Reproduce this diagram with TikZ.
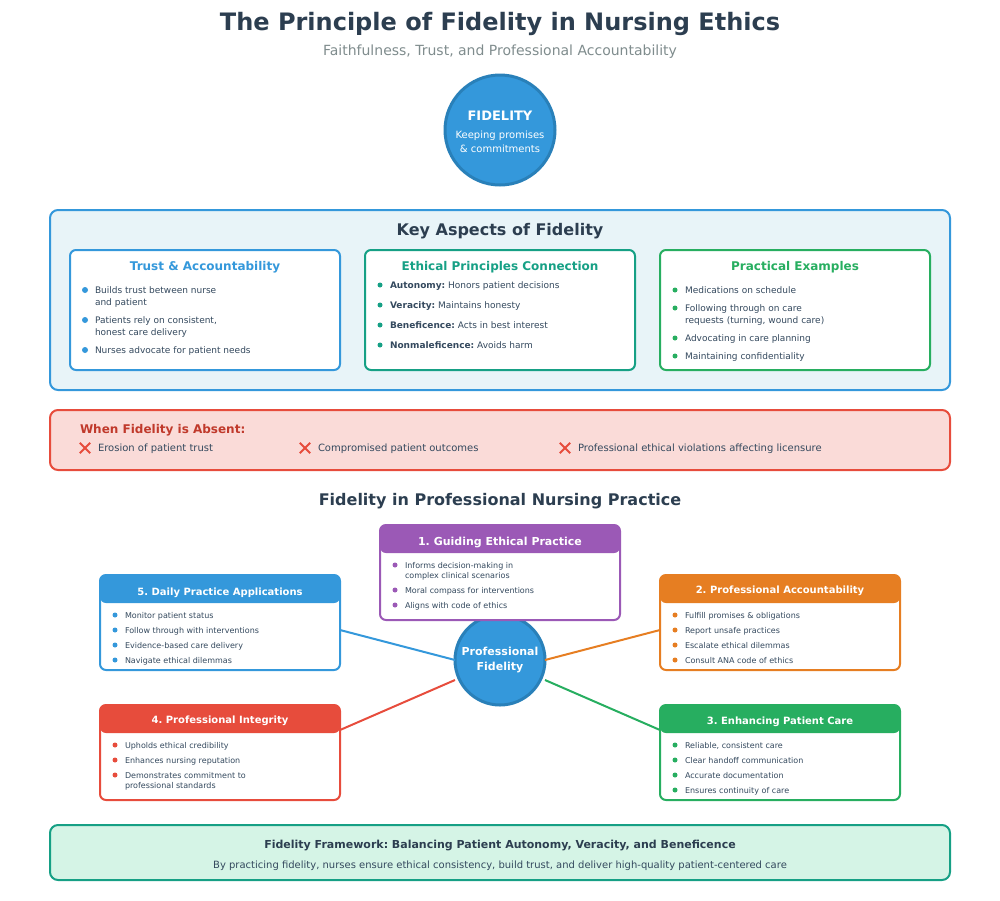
\documentclass[tikz,border=0pt]{standalone}
\usepackage{fontspec}
\setmainfont{DejaVu Sans}
\frenchspacing
\usetikzlibrary{shapes,arrows}
\definecolor{cblue}{HTML}{3498DB}
\definecolor{cbluedk}{HTML}{2980B9}
\definecolor{cteal}{HTML}{16A085}
\definecolor{cgreen}{HTML}{27AE60}
\definecolor{cred}{HTML}{E74C3C}
\definecolor{creddk}{HTML}{C0392B}
\definecolor{cpurple}{HTML}{9B59B6}
\definecolor{corange}{HTML}{E67E22}
\definecolor{cink}{HTML}{2C3E50}
\definecolor{cbody}{HTML}{34495E}
\definecolor{cgrey}{HTML}{7F8C8D}
\definecolor{cpanel}{HTML}{E8F4F8}
\definecolor{credfill}{HTML}{FADBD8}
\definecolor{cgreenfill}{HTML}{D5F4E6}

\begin{document}
\begin{tikzpicture}[x=1pt,y=-1pt]
	\useasboundingbox (0,0) rectangle (1000,900);

	\tikzset{
		reg/.style={inner sep=0pt,outer sep=0pt,font=\fontsize{#1}{#1}\selectfont,
			text height=\dimexpr #1pt*80/100\relax,text depth=\dimexpr #1pt*4/100\relax},
		bld/.style={inner sep=0pt,outer sep=0pt,font=\fontsize{#1}{#1}\selectfont\bfseries,
			text height=\dimexpr #1pt*80/100\relax,text depth=\dimexpr #1pt*4/100\relax}
	}
	\tikzstyle{box}=[rectangle,anchor=north west,inner sep=0pt,outer sep=0pt,line width=2pt]
	\tikzstyle{panel}=[box,rounded corners=8pt]
	\tikzstyle{aspect-box}=[box,rounded corners=6pt,fill=white,minimum width=270pt,minimum height=120pt]
	\tikzstyle{card}=[box,rounded corners=6pt,fill=white,minimum width=240pt,minimum height=95pt]
	\tikzstyle{head}=[box,rounded corners=6pt,minimum width=240pt,minimum height=28pt]
	\tikzstyle{head-text}=[bld=10,text=white]
	\tikzstyle{hub}=[circle,draw=cbluedk,fill=cblue,line width=3pt,inner sep=0pt,outer sep=0pt]
	\tikzstyle{aspect-title}=[bld=12]
	\tikzstyle{item}=[reg=9,anchor=west,text=cbody]
	\tikzstyle{small}=[reg=8,anchor=west,text=cbody]
	\tikzstyle{spot}=[circle,inner sep=0pt,outer sep=0pt,minimum size=6pt]
	\tikzstyle{tiny-spot}=[circle,inner sep=0pt,outer sep=0pt,minimum size=5pt]
	\tikzstyle{cross}=[rectangle,inner sep=0pt,minimum size=10pt]
	\tikzstyle{link}=[line width=2pt]

	% header
	\node[bld=24,text=cink] (title) at (500,21.5) {The Principle of Fidelity in Nursing Ethics};
	\node[reg=14,text=cgrey] (subtitle) at (500,50) {Faithfulness, Trust, and Professional Accountability};

	\node[hub,minimum size=110pt] (fidelity) at (500,130) {};
	\node[bld=13,text=white] (fidelity-a) at (500,115.5) {FIDELITY};
	\node[reg=10,text=white] (fidelity-b) at (500,134.5) {Keeping promises};
	\node[reg=10,text=white] (fidelity-c) at (500,148.5) {\& commitments};

	% key aspects
	\node[panel,draw=cblue,fill=cpanel,minimum width=900pt,minimum height=180pt] (aspects) at (50,210) {};
	\node[bld=16,text=cink] (aspects-title) at (500,229) {Key Aspects of Fidelity};

	\node[aspect-box,draw=cblue] 	(trust)		at (70,250) 	{};
	\node[aspect-box,draw=cteal] 	(ethics)	at (365,250) 	{};
	\node[aspect-box,draw=cgreen] 	(examples)	at (660,250) 	{};

	\node[aspect-title,text=cblue] 	(trust-title)		at (205,265.5) 	{Trust \& Accountability};
	\node[aspect-title,text=cteal] 	(ethics-title)		at (500,265.5) 	{Ethical Principles Connection};
	\node[aspect-title,text=cgreen] (examples-title)	at (795,265.5) 	{Practical Examples};

	\node[spot,fill=cblue] 	(t1)	at (85,290) 	{};
	\node[spot,fill=cblue] 	(t2)	at (85,320) 	{};
	\node[spot,fill=cblue] 	(t3)	at (85,350) 	{};
	\node[item] 	(tl1)	at (95,290) 	{Builds trust between nurse};
	\node[item] 	(tl1b)	at (95,302) 	{and patient};
	\node[item] 	(tl2)	at (95,320) 	{Patients rely on consistent,};
	\node[item] 	(tl2b)	at (95,332) 	{honest care delivery};
	\node[item] 	(tl3)	at (95,350) 	{Nurses advocate for patient needs};

	\node[tiny-spot,fill=cteal] 	(e1)	at (380,285) 	{};
	\node[tiny-spot,fill=cteal] 	(e2)	at (380,305) 	{};
	\node[tiny-spot,fill=cteal] 	(e3)	at (380,325) 	{};
	\node[tiny-spot,fill=cteal] 	(e4)	at (380,345) 	{};
	\node[item] 	(el1)	at (390,285) 	{\textbf{Autonomy:} Honors patient decisions};
	\node[item] 	(el2)	at (390,305) 	{\textbf{Veracity:} Maintains honesty};
	\node[item] 	(el3)	at (390,325) 	{\textbf{Beneficence:} Acts in best interest};
	\node[item] 	(el4)	at (390,345) 	{\textbf{Nonmaleficence:} Avoids harm};

	\node[tiny-spot,fill=cgreen] 	(p1)	at (675,290) 	{};
	\node[tiny-spot,fill=cgreen] 	(p2)	at (675,308) 	{};
	\node[tiny-spot,fill=cgreen] 	(p3)	at (675,338) 	{};
	\node[tiny-spot,fill=cgreen] 	(p4)	at (675,356) 	{};
	\node[item] 	(pl1)	at (685,290) 	{Medications on schedule};
	\node[item] 	(pl2)	at (685,308) 	{Following through on care};
	\node[item] 	(pl2b)	at (685,320) 	{requests (turning, wound care)};
	\node[item] 	(pl3)	at (685,338) 	{Advocating in care planning};
	\node[item] 	(pl4)	at (685,356) 	{Maintaining confidentiality};

	% absent
	\node[panel,draw=cred,fill=credfill,minimum width=900pt,minimum height=60pt] (absent) at (50,410) {};
	\node[bld=12,anchor=west,text=creddk] (absent-title) at (80,429) {When Fidelity is Absent:};

	\node[cross] 	(x1)	at (85,448) 	{};
	\node[cross] 	(x2)	at (305,448) 	{};
	\node[cross] 	(x3)	at (565,448) 	{};
	\foreach \n in {x1,x2,x3} {
		\draw[cred,line width=2pt] (\n.north west) -- (\n.south east);
		\draw[cred,line width=2pt] (\n.north east) -- (\n.south west);
	}
	\node[reg=10,anchor=west,text=cbody] 	(xl1)	at (98,448) 	{Erosion of patient trust};
	\node[reg=10,anchor=west,text=cbody] 	(xl2)	at (318,448) 	{Compromised patient outcomes};
	\node[reg=10,anchor=west,text=cbody] 	(xl3)	at (578,448) 	{Professional ethical violations affecting licensure};

	% practice
	\node[bld=16,text=cink] (practice-title) at (500,499.5) {Fidelity in Professional Nursing Practice};

	\node[hub,minimum size=90pt] (centre) at (500,660) {};
	\node[bld=11,text=white] (centre-a) at (500,651) {Professional};
	\node[bld=11,text=white] (centre-b) at (500,666) {Fidelity};

	\coordinate (centre-nw) at (455,660);
	\coordinate (centre-sw) at (455,680);
	\coordinate (centre-ne) at (545,660);
	\coordinate (centre-se) at (545,680);
	\coordinate (daily-e) at (340,630);
	\coordinate (integrity-e) at (340,730);
	\coordinate (account-w) at (660,630);
	\coordinate (care-w) at (660,730);

	\node[card,draw=cpurple] 	(guiding)	at (380,525) 	{};
	\node[card,draw=corange] 	(account)	at (660,575) 	{};
	\node[card,draw=cgreen] 	(care)		at (660,705) 	{};
	\node[card,draw=cred] 		(integrity)	at (100,705) 	{};
	\node[card,draw=cblue] 		(daily)		at (100,575) 	{};

	\node[head,fill=cpurple] 	(guiding-head)		at (380,525) 	{};
	\node[head,fill=corange] 	(account-head)		at (660,575) 	{};
	\node[head,fill=cgreen] 	(care-head)			at (660,705) 	{};
	\node[head,fill=cred] 		(integrity-head)	at (100,705) 	{};
	\node[head,fill=cblue] 		(daily-head)		at (100,575) 	{};

	\node[bld=11,text=white] 	(guiding-text)		at (500,541) 	{1. Guiding Ethical Practice};
	\node[head-text] 	(account-text)		at (780,590) 	{2. Professional Accountability};
	\node[head-text] 	(care-text)			at (780,721) 	{3. Enhancing Patient Care};
	\node[head-text] 	(integrity-text)	at (220,720) 	{4. Professional Integrity};
	\node[head-text] 	(daily-text)		at (220,591.5) 	{5. Daily Practice Applications};

	\node[tiny-spot,fill=cpurple] 	(g1)	at (395,565) 	{};
	\node[tiny-spot,fill=cpurple] 	(g2)	at (395,590) 	{};
	\node[tiny-spot,fill=cpurple] 	(g3)	at (395,605) 	{};
	\node[small] 	(gl1)	at (405,565) 	{Informs decision-making in};
	\node[small] 	(gl1b)	at (405,575) 	{complex clinical scenarios};
	\node[small] 	(gl2)	at (405,590) 	{Moral compass for interventions};
	\node[small] 	(gl3)	at (405,605) 	{Aligns with code of ethics};

	\node[tiny-spot,fill=corange] 	(a1)	at (675,615) 	{};
	\node[tiny-spot,fill=corange] 	(a2)	at (675,630) 	{};
	\node[tiny-spot,fill=corange] 	(a3)	at (675,645) 	{};
	\node[tiny-spot,fill=corange] 	(a4)	at (675,660) 	{};
	\node[small] 	(al1)	at (685,615) 	{Fulfill promises \& obligations};
	\node[small] 	(al2)	at (685,630) 	{Report unsafe practices};
	\node[small] 	(al3)	at (685,645) 	{Escalate ethical dilemmas};
	\node[small] 	(al4)	at (685,660) 	{Consult ANA code of ethics};

	\node[tiny-spot,fill=cgreen] 	(c1)	at (675,745) 	{};
	\node[tiny-spot,fill=cgreen] 	(c2)	at (675,760) 	{};
	\node[tiny-spot,fill=cgreen] 	(c3)	at (675,775) 	{};
	\node[tiny-spot,fill=cgreen] 	(c4)	at (675,790) 	{};
	\node[small] 	(cl1)	at (685,745) 	{Reliable, consistent care};
	\node[small] 	(cl2)	at (685,760) 	{Clear handoff communication};
	\node[small] 	(cl3)	at (685,775) 	{Accurate documentation};
	\node[small] 	(cl4)	at (685,790) 	{Ensures continuity of care};

	\node[tiny-spot,fill=cred] 	(i1)	at (115,745) 	{};
	\node[tiny-spot,fill=cred] 	(i2)	at (115,760) 	{};
	\node[tiny-spot,fill=cred] 	(i3)	at (115,775) 	{};
	\node[small] 	(il1)	at (125,745) 	{Upholds ethical credibility};
	\node[small] 	(il2)	at (125,760) 	{Enhances nursing reputation};
	\node[small] 	(il3)	at (125,775) 	{Demonstrates commitment to};
	\node[small] 	(il3b)	at (125,785) 	{professional standards};

	\node[tiny-spot,fill=cblue] 	(d1)	at (115,615) 	{};
	\node[tiny-spot,fill=cblue] 	(d2)	at (115,630) 	{};
	\node[tiny-spot,fill=cblue] 	(d3)	at (115,645) 	{};
	\node[tiny-spot,fill=cblue] 	(d4)	at (115,660) 	{};
	\node[small] 	(dl1)	at (125,615) 	{Monitor patient status};
	\node[small] 	(dl2)	at (125,630) 	{Follow through with interventions};
	\node[small] 	(dl3)	at (125,645) 	{Evidence-based care delivery};
	\node[small] 	(dl4)	at (125,660) 	{Navigate ethical dilemmas};

	\draw[link,cblue] 	(daily-e) -- (centre-nw);
	\draw[link,cred] 	(integrity-e) -- (centre-sw);
	\draw[link,corange] (account-w) -- (centre-ne);
	\draw[link,cgreen] 	(care-w) -- (centre-se);

	% framework
	\node[panel,draw=cteal,fill=cgreenfill,minimum width=900pt,minimum height=55pt] (framework) at (50,825) {};
	\node[bld=11,text=cink] (framework-a) at (500,844) {Fidelity Framework: Balancing Patient Autonomy, Veracity, and Beneficence};
	\node[reg=10,text=cbody] (framework-b) at (500,864.5) {By practicing fidelity, nurses ensure ethical consistency, build trust, and deliver high-quality patient-centered care};
\end{tikzpicture}
\end{document}
